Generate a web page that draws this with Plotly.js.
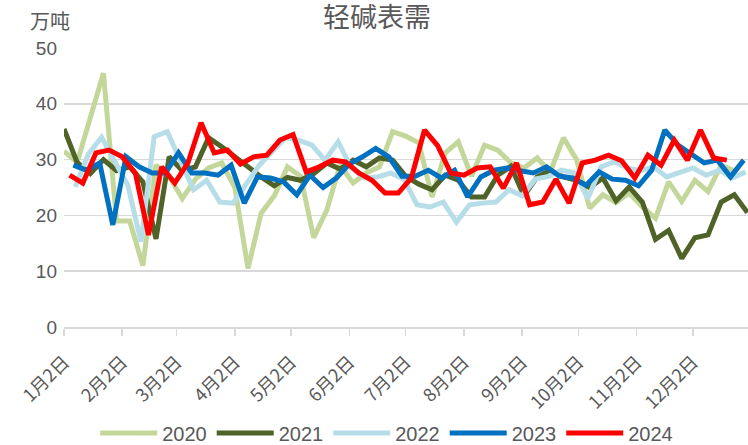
<!DOCTYPE html>
<html>
<head>
<meta charset="utf-8">
<script src="https://cdn.plot.ly/plotly-3.0.1.min.js"></script>
<style>
  html, body { margin: 0; padding: 0; background: #fff; }
  #chart { width: 748px; height: 445px; }
</style>
</head>
<body>
<div id="chart"></div>
<script>
// weekly light soda ash apparent demand, 万吨, one line per year
const years = ["2020", "2021", "2022", "2023", "2024"];
const startDates = ["2000-01-02", "2000-01-02", "2000-01-08", "2000-01-07", "2000-01-05"];
const colors = ["#C4D79B", "#4F6228", "#B7DEE8", "#0070C0", "#FF0000"];

const y2020 = [31.5, 29.5, 37.5, 45.5, 19, 19, 11, 29, 27, 23, 26.5, 28.5, 29.4, 25, 10.5, 20.4, 23.5, 28.7, 27, 16,
  21, 29, 25.8, 27.6, 28.7, 35, 34.2, 33, 23.3, 31.2, 33.2, 27, 32.6, 31.7, 29.4, 28.5, 30.3, 27.8, 33.9, 30,
  21.3, 23.7, 22.3, 24, 21.5, 19.5, 26, 22.5, 26.3, 24.3, 29, 28];
const y2021 = [35.5, 29.5, 27.5, 30, 28, 28.7, 26, 15.8, 30.5, 28, 28.7, 33.9, 32.3, 30.5, 28.5, 26.9, 25.3, 26.8, 26.3, 27.5,
  29.4, 28.3, 29.9, 28.7, 30.3, 29.9, 27, 25.6, 24.6, 27.2, 26.3, 23.3, 23.3, 27.2, 28.8, 23.5, 26.9, 28.1, 26.9, 26.3,
  25, 26.7, 22.6, 25.1, 22.4, 15.7, 17.3, 12.3, 16, 16.5, 22.4, 23.7, 20.5];
const y2022 = [25.1, 31, 34, 29.5, 25.4, 15.3, 34.1, 35, 29.9, 24.6, 26.3, 22.4, 22.2, 25.8, 29, 31.5, 33.9, 33.5, 32.6, 29.9,
  33.2, 28.5, 26.7, 26.9, 27.6, 26.5, 21.9, 21.5, 22.4, 18.8, 21.9, 22.2, 22.4, 24.6, 23.5, 26.5, 27, 28.1, 27.6, 23,
  28.7, 29.6, 28.5, 28, 28.7, 26.9, 27.8, 28.5, 27.2, 28.1, 26.7, 27.8];
const y2023 = [29, 28.1, 29.4, 18.3, 30.5, 28.7, 27.6, 27.6, 31.2, 27.6, 27.6, 27.2, 29, 22.2, 26.9, 26.7, 26, 23.7, 27.2, 25,
  26.7, 29.2, 30.5, 32, 30.5, 27, 27, 28.1, 26.7, 28.1, 23.3, 26.9, 28.1, 28.5, 28, 27.6, 28.7, 27, 26.7, 25.4,
  27.8, 26.5, 26.3, 25.3, 28.1, 35.3, 32.6, 31, 29.4, 29.9, 26.9, 29.9];
const y2024 = [27.2, 25.8, 31.2, 31.7, 30.5, 27.6, 16.5, 28.7, 25.8, 29.4, 36.6, 31.2, 31.7, 29.2, 30.5, 30.8, 33.5, 34.5, 27.8, 28.7,
  29.9, 29.6, 27.6, 26.3, 24, 24, 26.7, 35.3, 32.5, 27.6, 27.2, 28.5, 28.7, 24.9, 29.4, 21.9, 22.4, 26.5, 22.2, 29.4,
  29.9, 30.8, 29.8, 26.7, 30.8, 29, 33.5, 29.9, 35.3, 30.3, 29.9];

const tickDates = ["2000-01-02", "2000-02-02", "2000-03-02", "2000-04-02", "2000-05-02", "2000-06-02",
  "2000-07-02", "2000-08-02", "2000-09-02", "2000-10-02", "2000-11-02", "2000-12-02"];
const tickLabels = ["1月2日", "2月2日", "3月2日", "4月2日", "5月2日", "6月2日",
  "7月2日", "8月2日", "9月2日", "10月2日", "11月2日", "12月2日"];

// weekly dates on a common year so all years share one axis
function weekly(start, n) {
  const t0 = new Date(start + "T00:00:00Z").getTime();
  const out = [];
  for (let i = 0; i < n; i++) {
    out.push(new Date(t0 + i * 7 * 864e5).toISOString().slice(0, 10));
  }
  return out;
}

const values = [y2020, y2021, y2022, y2023, y2024];
const data = years.map((name, i) => ({
  type: "scatter",
  mode: "lines",
  name: name,
  x: weekly(startDates[i], values[i].length),
  y: values[i],
  line: { color: colors[i], width: 5 }
}));

const grey = "#595959";

Plotly.newPlot("chart", data, {
  width: 748,
  height: 445,
  margin: { l: 64, r: 0, t: 48, b: 118 },
  paper_bgcolor: "#fff",
  plot_bgcolor: "#fff",
  font: { family: "Liberation Sans, Arial, Noto Sans CJK SC", color: grey, size: 17 },
  title: {
    text: "轻碱表需",
    font: { family: "Noto Sans CJK SC", size: 27, color: grey },
    x: 0.504, xanchor: "center",
    yref: "container", y: 0.961, yanchor: "middle"
  },
  showlegend: true,
  legend: {
    orientation: "h",
    x: 0.517, xanchor: "center", xref: "container",
    yref: "container", y: 0.027, yanchor: "middle",
    font: { size: 20, color: grey },
    itemwidth: 57,
    tracegroupgap: 0
  },
  xaxis: {
    type: "date",
    range: ["2000-01-02", "2000-12-31 07:00"],
    tickvals: tickDates,
    ticktext: tickLabels,
    tickangle: -45,
    tickfont: { family: "Noto Sans CJK SC", size: 18, color: grey },
    ticks: "outside",
    ticklen: 7,
    tickwidth: 1.5,
    tickcolor: "#D9D9D9",
    ticklabelstandoff: 9,
    showline: true,
    linecolor: "#D9D9D9",
    linewidth: 1.5,
    showgrid: false,
    zeroline: false
  },
  yaxis: {
    range: [0, 50],
    dtick: 10,
    tickfont: { size: 19, color: grey },
    gridcolor: "#D9D9D9",
    gridwidth: 1.5,
    zeroline: false,
    showline: false,
    ticklabelstandoff: 6
  },
  annotations: [{
    text: "万吨",
    xref: "paper", yref: "paper",
    x: -0.0205, y: 1.1,
    xanchor: "center", yanchor: "middle",
    showarrow: false,
    font: { family: "Noto Sans CJK SC", size: 20, color: grey }
  }]
}, { displayModeBar: false, staticPlot: true });
</script>
</body>
</html>
